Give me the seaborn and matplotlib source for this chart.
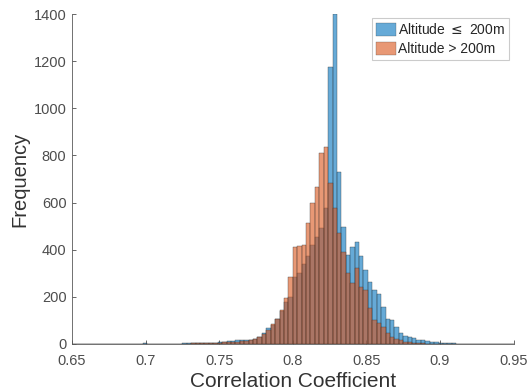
import numpy as np
import pandas as pd
import matplotlib
matplotlib.use("Agg")
import matplotlib.pyplot as plt
from matplotlib.patches import Patch
import seaborn as sns

# histogram bins: 0.65 to 0.95, width 0.003
bin_start = 0.65
bin_width = 0.003
n_bins = 100

# counts per bin, Altitude <= 200m
low_counts = [
    1, 0, 1, 1, 0, 1, 1, 1, 0, 1,
    1, 1, 1, 1, 1, 1, 6, 1, 1, 2,
    1, 2, 2, 2, 2, 3, 3, 3, 3, 4,
    4, 5, 6, 8, 9, 11, 13, 15, 16, 17,
    18, 20, 30, 47, 66, 82, 105, 140, 178, 200,
    285, 300, 340, 375, 420, 455, 492, 577, 1175, 1400,
    730, 497, 378, 412, 433, 375, 314, 263, 230, 210,
    157, 105, 100, 72, 47, 32, 30, 26, 18, 15,
    12, 9, 7, 5, 4, 3, 3, 2, 2, 2,
    1, 1, 2, 1, 1, 1, 0, 1, 0, 0,
]

# counts per bin, Altitude > 200m
high_counts = [
    0, 0, 1, 0, 0, 1, 0, 1, 0, 0,
    1, 0, 1, 1, 0, 1, 2, 1, 1, 1,
    1, 1, 2, 2, 2, 2, 2, 3, 3, 3,
    3, 4, 5, 6, 7, 8, 9, 10, 12, 14,
    16, 20, 31, 42, 59, 85, 105, 144, 195, 285,
    410, 415, 420, 515, 598, 665, 812, 836, 683, 577,
    470, 390, 300, 258, 322, 242, 229, 153, 102, 89,
    72, 45, 30, 22, 15, 10, 8, 6, 4, 3,
    2, 2, 1, 1, 1, 1, 0, 1, 0, 0,
    0, 0, 1, 0, 0, 0, 0, 0, 0, 0,
]

edges = list(bin_start + bin_width * np.arange(n_bins + 1))
centers = [e + bin_width / 2 for e in edges[:-1]]

df_low = pd.DataFrame({'r': centers, 'n': low_counts})
df_high = pd.DataFrame({'r': centers, 'n': high_counts})

c_low = (0.0, 0.447, 0.741)
c_high = (0.85, 0.325, 0.098)
c_edge = (0.2, 0.2, 0.2)

sns.set_theme(style="white")
plt.rcParams['font.family'] = ['Liberation Sans', 'DejaVu Sans']

fig = plt.figure(figsize=(5.27, 3.9), dpi=100)
ax = fig.add_axes([0.1366, 0.118, 0.838, 0.846])

sns.histplot(data=df_low, x='r', weights='n', bins=edges, color=c_low,
             alpha=0.6, edgecolor=c_edge, linewidth=0.25, ax=ax)
sns.histplot(data=df_high, x='r', weights='n', bins=edges, color=c_high,
             alpha=0.6, edgecolor=c_edge, linewidth=0.25, ax=ax)

ax.set_xlim(0.65, 0.95)
ax.set_ylim(0, 1400)
ax.set_xticks([0.65, 0.7, 0.75, 0.8, 0.85, 0.9, 0.95])
ax.set_xticklabels(["0.65", "0.7", "0.75", "0.8", "0.85", "0.9", "0.95"])
ax.set_yticks(np.arange(0, 1401, 200))
ax.tick_params(direction='in', length=3, width=0.6, labelsize=10.5,
               colors='#4d4d4d', left=True, bottom=True)
ax.tick_params(axis='y', pad=4)
ax.tick_params(axis='x', pad=7)
ax.set_xlabel("Correlation Coefficient", fontsize=15, color='#333333', labelpad=3)
ax.set_ylabel("Frequency", fontsize=14.5, color='#333333', labelpad=3)
sns.despine(ax=ax)
for s in ['left', 'bottom']:
    ax.spines[s].set_color('#595959')
    ax.spines[s].set_linewidth(0.6)

handles = [Patch(facecolor=c_low, alpha=0.6, edgecolor=c_edge, linewidth=0.3),
           Patch(facecolor=c_high, alpha=0.6, edgecolor=c_edge, linewidth=0.3)]
leg = ax.legend(handles, ["Altitude $\\leq$ 200m", "Altitude > 200m"],
                loc='upper right', fontsize=10, frameon=True, fancybox=False,
                handlelength=1.4, handleheight=1.1, handletextpad=0.2,
                borderpad=0.3, labelspacing=0.3, borderaxespad=0.3)
leg.get_frame().set_edgecolor('#bfbfbf')
leg.get_frame().set_linewidth(0.8)

fig.savefig("out.png", dpi=100)
